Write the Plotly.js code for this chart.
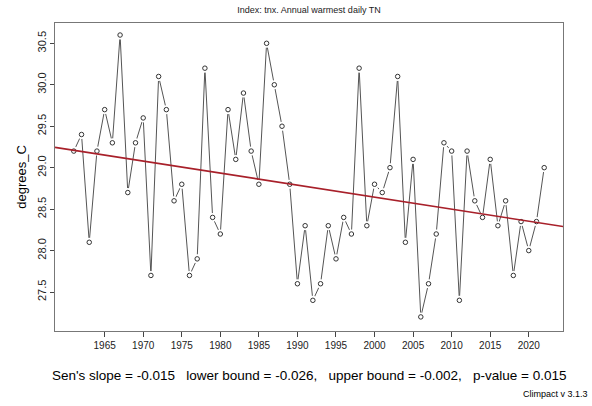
<!DOCTYPE html>
<html>
<head>
<meta charset="utf-8">
<script src="https://cdn.plot.ly/plotly-3.0.1.min.js"></script>
<style>html,body{margin:0;padding:0;background:#fff;}#chart{width:592px;height:406px;}</style>
</head>
<body>
<div id="chart"></div>
<script>
const years = [1961,1962,1963,1964,1965,1966,1967,1968,1969,1970,
  1971,1972,1973,1974,1975,1976,1977,1978,1979,1980,
  1981,1982,1983,1984,1985,1986,1987,1988,1989,1990,
  1991,1992,1993,1994,1995,1996,1997,1998,1999,2000,
  2001,2002,2003,2004,2005,2006,2007,2008,2009,2010,
  2011,2012,2013,2014,2015,2016,2017,2018,2019,2020,2021,2022];
const tnx = [29.2,29.4,28.1,29.2,29.7,29.3,30.6,28.7,29.3,29.6,
  27.7,30.1,29.7,28.6,28.8,27.7,27.9,30.2,28.4,28.2,
  29.7,29.1,29.9,29.2,28.8,30.5,30.0,29.5,28.8,27.6,
  28.3,27.4,27.6,28.3,27.9,28.4,28.2,30.2,28.3,28.8,
  28.7,29.0,30.1,28.1,29.1,27.2,27.6,28.2,29.3,29.2,
  27.4,29.2,28.6,28.4,29.1,28.3,28.6,27.7,28.35,28.0,28.35,29.0];
const trendYears = [1958.56, 2024.44];
const senSlope = -0.0145;
const trendRefYear = 1961;
const trendRefValue = 29.21;
const trendValues = trendYears.map(y => trendRefValue + senSlope * (y - trendRefYear));
const xTickVals = [1965,1970,1975,1980,1985,1990,1995,2000,2005,2010,2015,2020];
const yTickVals = [27.5,28.0,28.5,29.0,29.5,30.0,30.5];
const yTickText = ["27.5","28.0","28.5","29.0","29.5","30.0","30.5"];
const titleText = "Index: tnx. Annual warmest daily TN";
const statsText = "Sen's slope = -0.015   lower bound = -0.026,   upper bound = -0.002,   p-value = 0.015";
const footerText = "Climpact v 3.1.3";

const font = "Liberation Sans, Arial, sans-serif";

const traces = [
  {
    x: years, y: tnx, type: "scatter", mode: "lines",
    line: {color: "#555", width: 1},
    showlegend: false, hoverinfo: "skip"
  },
  {
    x: years, y: tnx, type: "scatter", mode: "markers",
    marker: {symbol: "circle", size: 9, color: "#fff", line: {width: 0}},
    showlegend: false, hoverinfo: "skip"
  },
  {
    x: years, y: tnx, type: "scatter", mode: "markers",
    marker: {symbol: "circle-open", size: 4.5, color: "#333", line: {width: 1, color: "#333"}},
    hoverinfo: "x+y", showlegend: false
  },
  {
    x: trendYears, y: trendValues, type: "scatter", mode: "lines",
    line: {color: "#A8202A", width: 1.6},
    showlegend: false, hoverinfo: "skip"
  }
];

const layout = {
  width: 592, height: 406,
  paper_bgcolor: "#fff", plot_bgcolor: "#fff",
  margin: {l: 55, r: 29, t: 23, b: 75},
  font: {family: font, color: "#000"},
  title: {text: titleText, font: {family: font, size: 9, color: "#222"}, x: 0.522, xanchor: "center", y: 0.975, yanchor: "middle"},
  xaxis: {
    range: [1958.56, 2024.44], tickvals: xTickVals, ticks: "outside", ticklen: 5, tickcolor: "#444",
    showgrid: false, zeroline: false, showline: true, mirror: true, linecolor: "#777", linewidth: 1,
    tickfont: {family: font, size: 10, color: "#222"}
  },
  yaxis: {
    range: [27.03, 30.745], tickvals: yTickVals, ticktext: yTickText, ticks: "outside", ticklen: 4, tickcolor: "#444",
    tickangle: -90, showgrid: false, zeroline: false, showline: true, mirror: true, linecolor: "#777", linewidth: 1,
    tickfont: {family: font, size: 11, color: "#222"},
    title: {text: "degrees_C", font: {family: font, size: 13, color: "#000"}, standoff: 6}
  },
  annotations: [
    {text: statsText, xref: "paper", yref: "paper", x: 0.5, y: -0.145, xanchor: "center", yanchor: "middle",
     showarrow: false, font: {family: font, size: 13.5, color: "#000"}},
    {text: footerText, xref: "paper", yref: "paper", x: 1.053, y: -0.205, xanchor: "right", yanchor: "middle",
     showarrow: false, font: {family: font, size: 9, color: "#000"}}
  ]
};

Plotly.newPlot("chart", traces, layout, {displayModeBar: false, staticPlot: true});
</script>
</body>
</html>
